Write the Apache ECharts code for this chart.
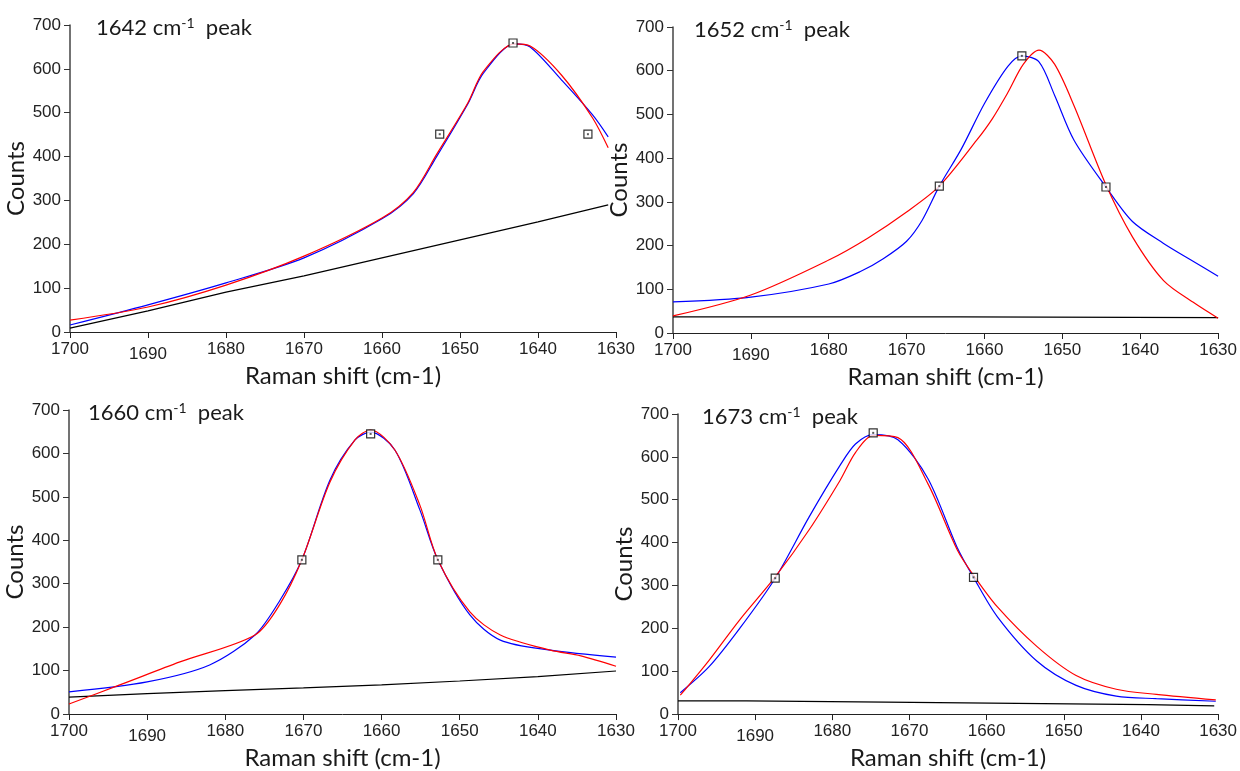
<!DOCTYPE html>
<html>
<head>
<meta charset="utf-8">
<script src="https://cdn.jsdelivr.net/npm/echarts@6/dist/echarts.min.js"></script>
<style>
html,body{margin:0;padding:0;background:#fff;}
#chart{width:1240px;height:771px;}
</style>
</head>
<body>
<div id="chart"></div>
<script>
// ---------- DATA ----------
const xTicks = [1700, 1690, 1680, 1670, 1660, 1650, 1640, 1630];
const yTicks = [0, 100, 200, 300, 400, 500, 600, 700];
const titles = ['1642', '1652', '1660', '1673'];

// Panel 1 (1642 cm-1 peak)
const p1X    = [1700, 1690, 1680, 1670, 1660, 1656, 1653, 1649, 1647, 1643, 1641, 1637, 1633, 1631];
const p1Blue = [16, 62, 112, 169, 258, 315, 400, 520, 590, 657, 650, 575, 495, 445];
const p1Red  = [27, 57, 107, 173, 260, 318, 405, 522, 594, 657, 652, 586, 488, 420];
const p1BaseX = [1700, 1690, 1680, 1670, 1660, 1650, 1640, 1631];
const p1Base  = [9, 48, 91, 128, 169, 210, 251, 290];
const p1MarkX = [1652.6, 1643.2, 1633.6];
const p1MarkY = [451, 659, 451];

// Panel 2 (1652 cm-1 peak)
const p2BlueX = [1700, 1690, 1680, 1676, 1673, 1670, 1668, 1665.8, 1663, 1660, 1657, 1655.2, 1653, 1651, 1648.5, 1644.4, 1641, 1637, 1633, 1630];
const p2Blue  = [71, 82, 112, 140, 170, 210, 258, 336, 420, 525, 610, 634, 620, 544, 441, 334, 255, 205, 162, 130];
const p2RedX  = [1700, 1690, 1680, 1675, 1670, 1665.8, 1661, 1659, 1657, 1655, 1653, 1651, 1648.5, 1644.4, 1641, 1637, 1633, 1630];
const p2Red   = [39, 87, 167, 217, 277, 336, 441, 490, 550, 615, 647, 615, 520, 339, 220, 120, 68, 34];
const p2BaseX = [1700, 1663.1, 1663, 1630];
const p2Base  = [37, 37, 35, 35];
const p2MarkX = [1665.8, 1655.2, 1644.4];
const p2MarkY = [336, 634, 334];

// Panel 3 (1660 cm-1 peak)
const p3BlueX = [1700, 1690, 1682, 1676.2, 1673, 1670.2, 1666.6, 1663.4, 1661.4, 1658.3, 1655.1, 1652.8, 1648.7, 1644.8, 1638.4, 1630];
const p3Blue  = [51, 74, 113, 182, 262, 355, 539, 631, 649, 608, 470, 355, 228, 170, 147, 131];
const p3RedX  = [1700, 1693.5, 1685.8, 1676.2, 1673, 1670.2, 1666.6, 1663.4, 1661.4, 1658.3, 1655.1, 1652.8, 1648.7, 1644.8, 1638.4, 1634.5, 1630];
const p3Red   = [23, 67, 120, 182, 253, 355, 534, 631, 654, 608, 481, 355, 235, 182, 147, 134, 110];
const p3BaseX = [1700, 1690, 1680, 1670, 1660, 1650, 1640, 1630];
const p3Base  = [39, 47, 54, 60, 67, 76, 86, 99];
const p3MarkX = [1670.2, 1661.4, 1652.8];
const p3MarkY = [355, 645, 355];

// Panel 4 (1673 cm-1 peak)
const p4BlueX = [1699.7, 1696, 1692, 1687.4, 1683, 1679, 1677, 1674.7, 1671.5, 1667.6, 1663.8, 1661.7, 1658.6, 1653.5, 1648.4, 1643.2, 1638, 1630.3];
const p4Blue  = [50, 110, 200, 317, 460, 580, 630, 652, 640, 549, 388, 319, 227, 124, 67, 42, 36, 30];
const p4RedX  = [1699.7, 1696, 1692, 1687.4, 1683, 1679, 1677, 1674.7, 1671.5, 1667.6, 1663.8, 1661.7, 1658.6, 1653.5, 1648.4, 1643.2, 1638, 1630.3];
const p4Red   = [44, 125, 220, 320, 430, 545, 610, 650, 645, 537, 383, 324, 250, 158, 90, 58, 46, 33];
const p4BaseX = [1700, 1691.1, 1691, 1673.1, 1673, 1656.1, 1656, 1639.1, 1639, 1630.5];
const p4Base  = [31, 31, 28, 28, 25, 25, 22, 22, 19, 19];
const p4MarkX = [1687.4, 1674.7, 1661.7];
const p4MarkY = [317, 656, 319];

// ---------- BUILD ----------
const zip = (xs, ys) => xs.map((x, i) => [x, ys[i]]);
const panels = [
  {blue: zip(p1X, p1Blue), red: zip(p1X, p1Red), base: zip(p1BaseX, p1Base), mark: zip(p1MarkX, p1MarkY)},
  {blue: zip(p2BlueX, p2Blue), red: zip(p2RedX, p2Red), base: zip(p2BaseX, p2Base), mark: zip(p2MarkX, p2MarkY)},
  {blue: zip(p3BlueX, p3Blue), red: zip(p3RedX, p3Red), base: zip(p3BaseX, p3Base), mark: zip(p3MarkX, p3MarkY)},
  {blue: zip(p4BlueX, p4Blue), red: zip(p4RedX, p4Red), base: zip(p4BaseX, p4Base), mark: zip(p4MarkX, p4MarkY)}
];

const grids = [
  {left: 70, top: 25, width: 546, height: 307},
  {left: 673, top: 27, width: 553, height: 306},
  {left: 69, top: 410, width: 547, height: 304},
  {left: 678, top: 414, width: 545, height: 305}
];
const titlePos = [[91, 11], [689, 13], [83, 396], [697, 400]];

const labelFont = '"Liberation Sans", Arial, sans-serif';
const nameFont = 'Lato, sans-serif';

const xAxes = grids.map((g, i) => ({
  gridIndex: i, type: 'value', inverse: true,
  min: xTicks[xTicks.length - 1], max: xTicks[0], interval: 10,
  name: 'Raman shift (cm-1)', nameLocation: 'middle', nameGap: 29,
  nameTextStyle: {fontFamily: nameFont, fontSize: 24, color: '#1a1a1a', verticalAlign: 'top'},
  splitLine: {show: false},
  axisLine: {onZero: false, lineStyle: {color: '#222', width: 1}},
  axisTick: {length: 6, lineStyle: {color: '#222'}},
  axisLabel: {
    margin: 9, fontFamily: labelFont, fontSize: 17, color: '#222',
    formatter: v => v === 1690 ? '{lo|1690}' : String(v),
    rich: {lo: {padding: [5, 0, 0, 0], fontFamily: labelFont, fontSize: 17, color: '#222'}}
  }
}));
const yAxes = grids.map((g, i) => ({
  gridIndex: i, type: 'value', min: yTicks[0], max: yTicks[yTicks.length - 1], interval: 100,
  name: 'Counts', nameLocation: 'middle', nameGap: 34, nameRotate: 90,
  nameTextStyle: {fontFamily: nameFont, fontSize: 24, color: '#1a1a1a'},
  splitLine: {show: false},
  axisLine: {lineStyle: {color: '#444', width: 1.5}},
  axisTick: {length: 6, lineStyle: {color: '#333'}},
  axisLabel: {margin: 9, fontFamily: labelFont, fontSize: 17, color: '#222'}
}));

const series = [];
panels.forEach((p, i) => {
  series.push({type: 'line', xAxisIndex: i, yAxisIndex: i, data: p.base, showSymbol: false,
    lineStyle: {color: '#000', width: 1.2}, animation: false, z: 2});
  series.push({type: 'line', xAxisIndex: i, yAxisIndex: i, data: p.blue, showSymbol: false,
    smooth: 0.3, lineStyle: {color: '#0000ff', width: 1.2}, animation: false, z: 3});
  series.push({type: 'line', xAxisIndex: i, yAxisIndex: i, data: p.red, showSymbol: false,
    smooth: 0.3, lineStyle: {color: '#ff0000', width: 1.2}, animation: false, z: 4});
  series.push({type: 'scatter', xAxisIndex: i, yAxisIndex: i, data: p.mark, symbol: 'rect', symbolSize: 8,
    itemStyle: {color: '#fff', borderColor: '#000', borderWidth: 1.2}, animation: false, z: 5});
  series.push({type: 'scatter', xAxisIndex: i, yAxisIndex: i, data: p.mark, symbol: 'rect', symbolSize: 2,
    itemStyle: {color: '#333'}, animation: false, z: 6});
});

const title = titles.map((t, i) => ({
  text: t + ' cm{sup|-1}  peak',
  left: titlePos[i][0], top: titlePos[i][1],
  textStyle: {
    fontFamily: nameFont, fontSize: 22, fontWeight: 'normal', color: '#1a1a1a',
    rich: {sup: {fontFamily: nameFont, fontSize: 14, color: '#1a1a1a', padding: [0, 0, 10, 0]}}
  }
}));

const chart = echarts.init(document.getElementById('chart'), null, {renderer: 'canvas'});
chart.setOption({
  backgroundColor: '#fff',
  animation: false,
  title: title,
  grid: grids,
  xAxis: xAxes,
  yAxis: yAxes,
  series: series
});
</script>
</body>
</html>
